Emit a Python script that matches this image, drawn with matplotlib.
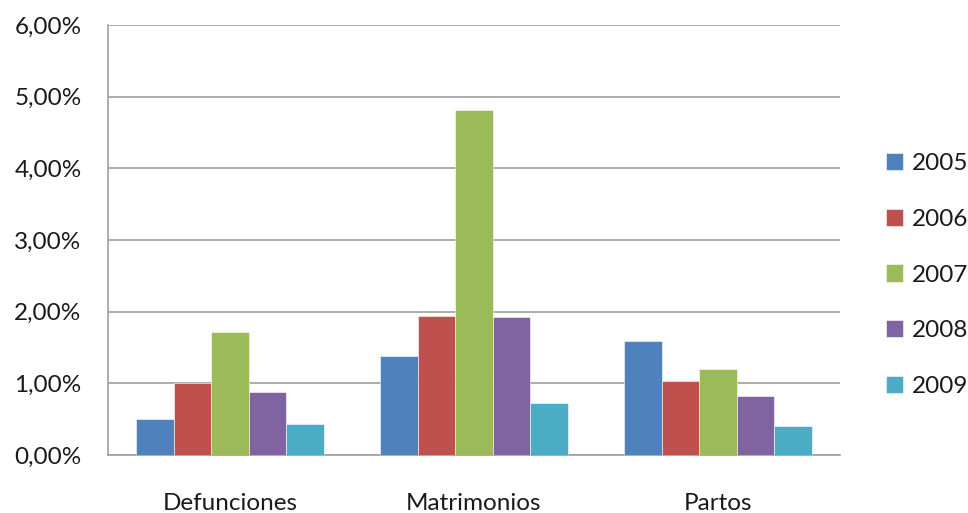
import matplotlib
matplotlib.use("Agg")
import matplotlib.pyplot as plt
import numpy as np
from matplotlib.patches import Patch

categories = ["Defunciones", "Matrimonios", "Partos"]
years = ["2005", "2006", "2007", "2008", "2009"]
values = {
    "2005": [0.50, 1.385, 1.59],
    "2006": [1.00, 1.94, 1.03],
    "2007": [1.71, 4.82, 1.20],
    "2008": [0.88, 1.92, 0.82],
    "2009": [0.43, 0.72, 0.41],
}
colors = ["#4F81BD", "#C0504D", "#9BBB59", "#8064A2", "#4BACC6"]
yticks = [0, 1, 2, 3, 4, 5, 6]
ytick_labels = ["0,00%", "1,00%", "2,00%", "3,00%", "4,00%", "5,00%", "6,00%"]

plt.rcParams['font.family'] = ['Lato', 'DejaVu Sans']

fig = plt.figure(figsize=(9.68, 5.13), dpi=100)
ax = fig.add_axes([108/968, 1 - 455/513, (840-108)/968, (455-25)/513])

group_centers = np.arange(len(categories))
bw = 0.154
for i, y in enumerate(years):
    x = group_centers + (i - 2) * bw
    ax.bar(x, values[y], width=bw, color=colors[i], edgecolor="white",
           linewidth=0.4, zorder=3, label=y)

ax.set_xlim(-0.5, 2.5)
ax.set_ylim(0, 6)
ax.set_yticks(yticks)
ax.set_yticklabels(ytick_labels)
ax.set_xticks(np.arange(len(categories)))
ax.set_xticklabels(categories)
ax.tick_params(axis='both', length=0, labelsize=17.5, colors="#000000")
ax.tick_params(axis='y', pad=19)
ax.tick_params(axis='x', pad=27)
for lab in ax.get_yticklabels() + ax.get_xticklabels():
    lab.set_color("#1a1a1a")

ax.grid(axis='y', color="#A6A6A6", linewidth=1.3, zorder=0)
for s in ["left", "bottom", "top", "right"]:
    ax.spines[s].set_color("#A0A0A0")
    ax.spines[s].set_linewidth(1.2)
ax.spines["right"].set_visible(False)
ax.spines["top"].set_visible(False)

handles = [Patch(facecolor=c, edgecolor="white", linewidth=0.4) for c in colors]
leg = fig.legend(handles, years, loc="center left", bbox_to_anchor=(886/968, 1 - 275/513),
           frameon=False, fontsize=17.5, handlelength=0.7, handleheight=0.7,
           handletextpad=0.35, labelspacing=1.42, borderaxespad=0, borderpad=0)
for t in leg.get_texts():
    t.set_color("#1a1a1a")

fig.savefig("out.png", dpi=100)
